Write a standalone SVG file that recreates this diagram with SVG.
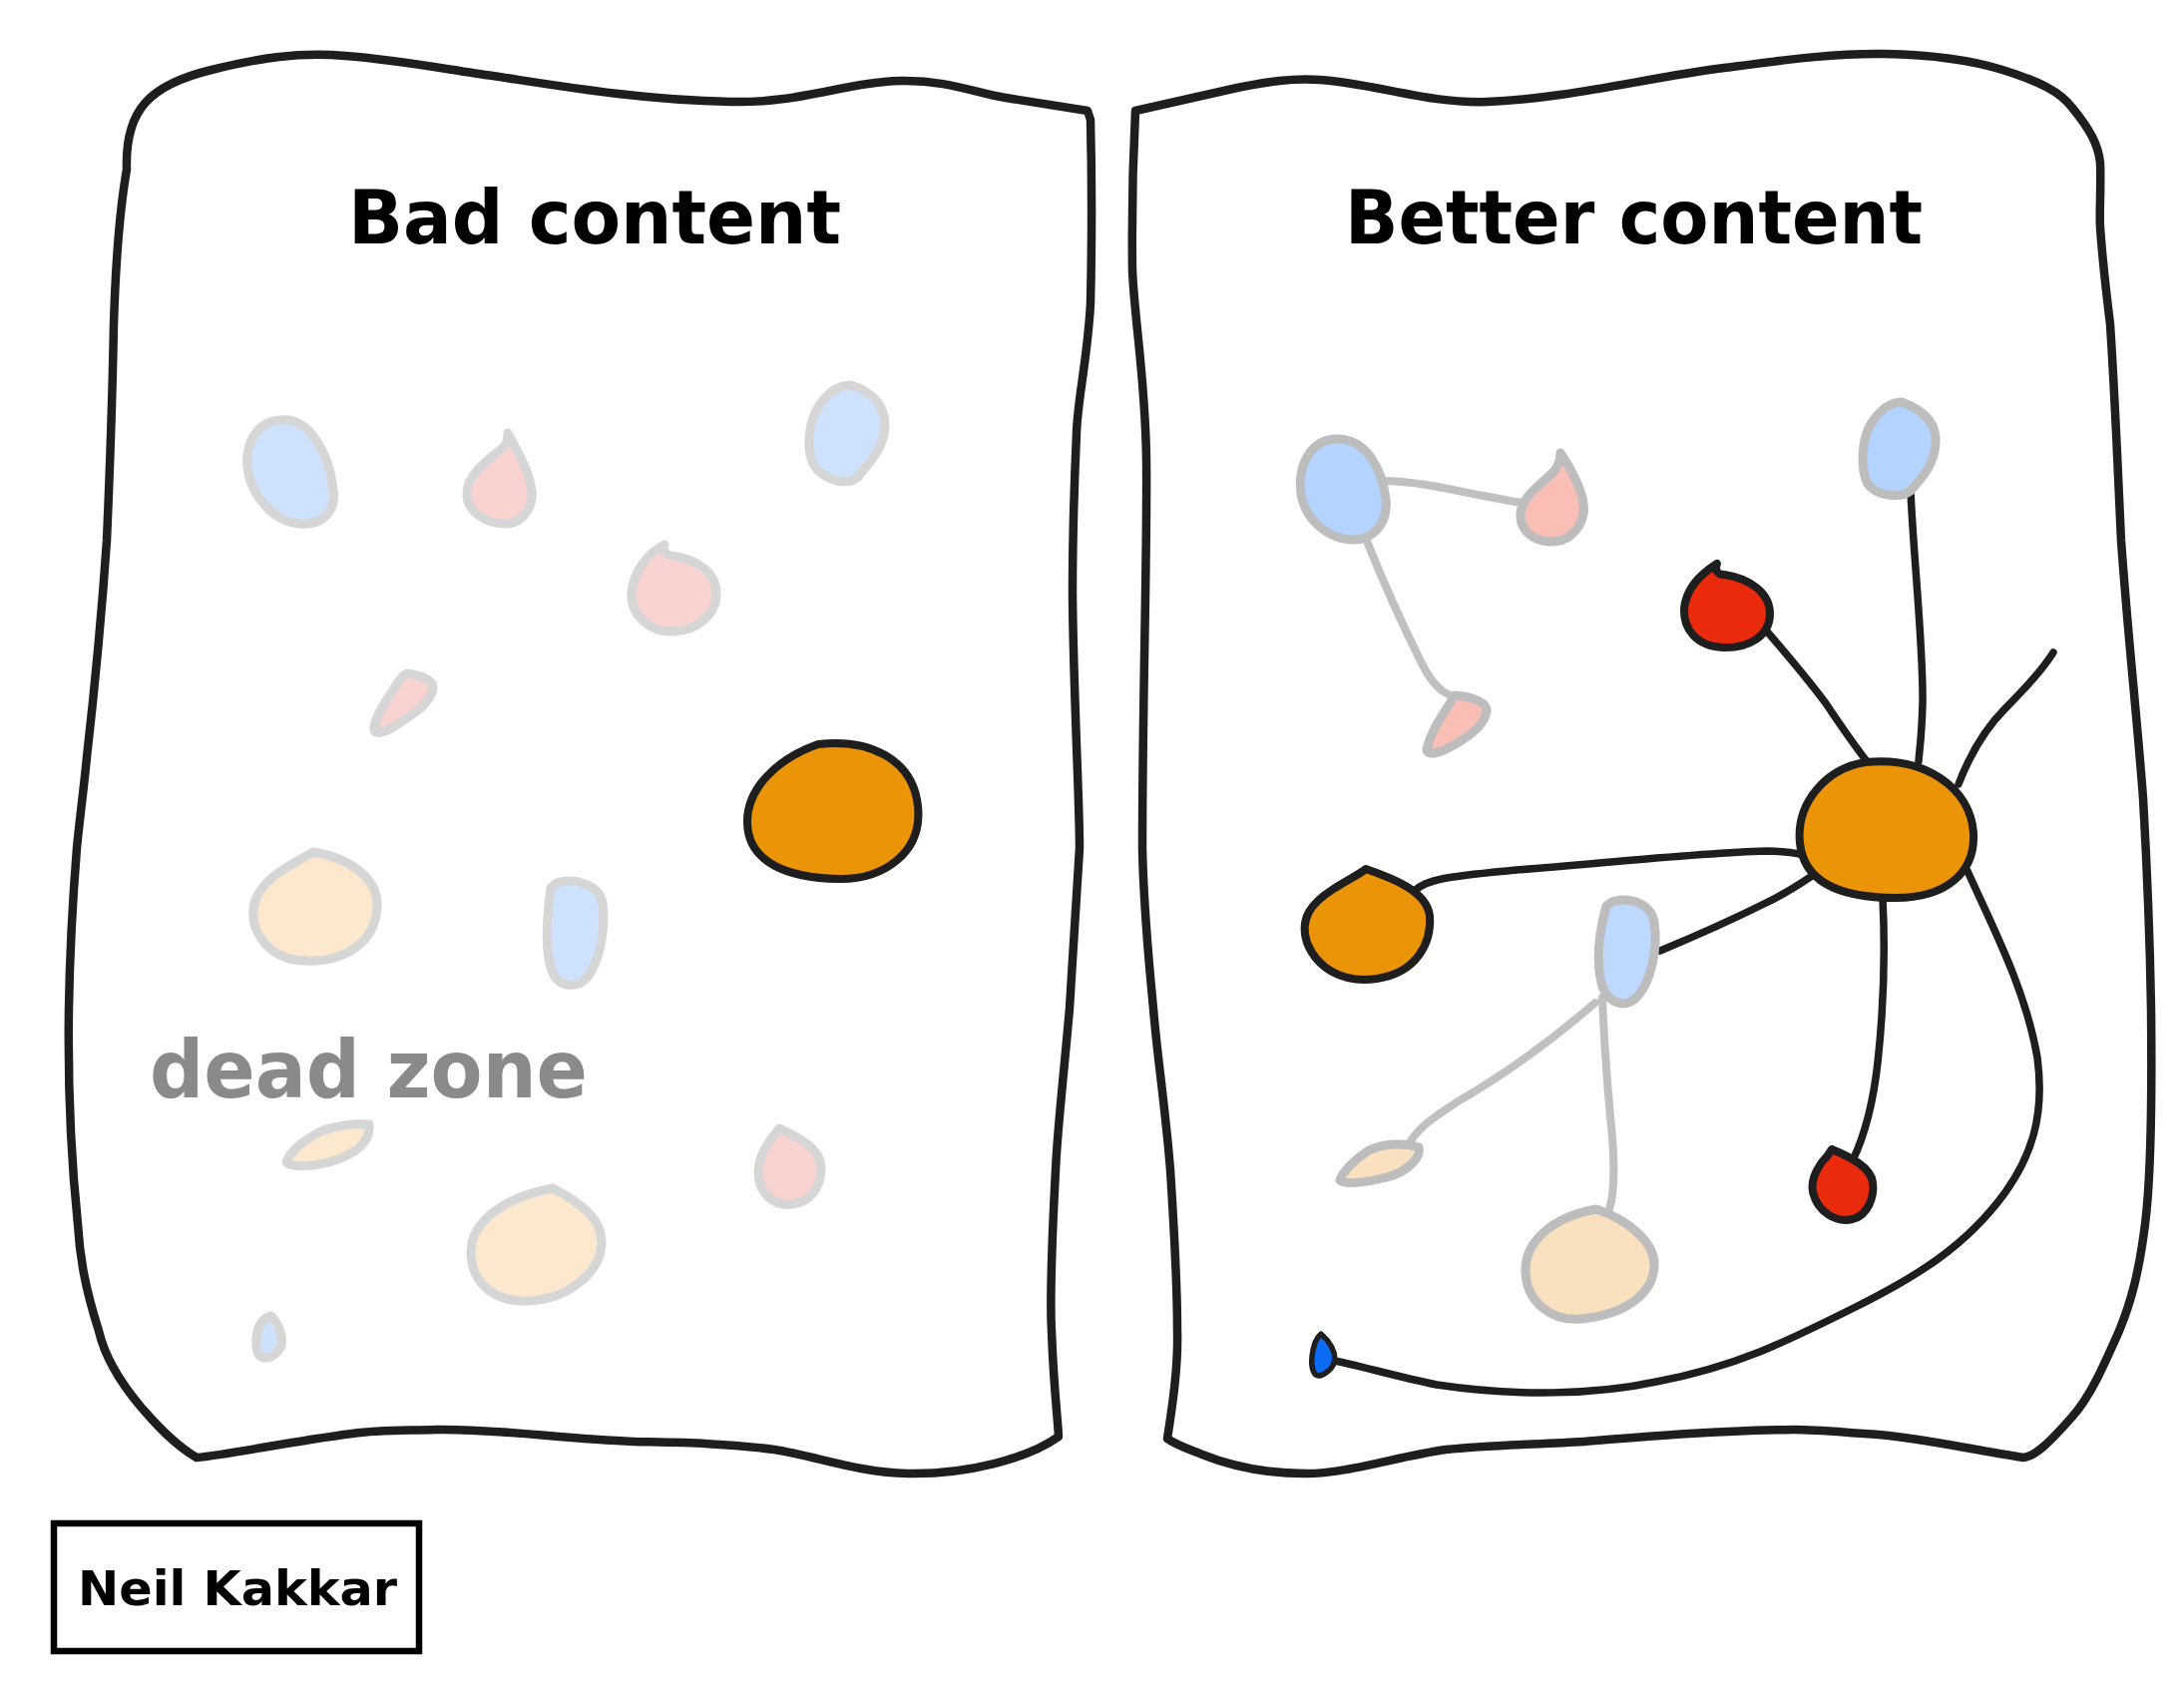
<svg xmlns="http://www.w3.org/2000/svg" width="2189" height="1694" viewBox="0 0 2189 1694">
<style>
.panel{fill:none;stroke:#1e1e1e;stroke-width:8.5;stroke-linejoin:round;stroke-linecap:round}
.faint{stroke:#d6d6d6;stroke-width:9;stroke-linejoin:round}
.soft{stroke:#bdbdbd;stroke-width:9;stroke-linejoin:round}
.bold{stroke:#1e1e1e;stroke-width:8;stroke-linejoin:round}
.gline{fill:none;stroke:#c0c0c0;stroke-width:8;stroke-linecap:round}
.bline{fill:none;stroke:#1e1e1e;stroke-width:7.5;stroke-linecap:round}
.title{font-family:"DejaVu Sans",sans-serif;font-size:74px;font-weight:bold;fill:#000}
.blue1{fill:#cfe2fd}.pink1{fill:#f9d3cf}.peach1{fill:#fbe8cf}
.blue2{fill:#b3d4ff}.pink2{fill:#f9bfb6}.peach2{fill:#f9e0bf}
.orange{fill:#ec9408}.red{fill:#ea2a0c}.dblue{fill:#0a6cf5}
</style>
<rect width="2189" height="1694" fill="#fff"/>

<g id="panel-bad">
<path class="panel" d="M127,170 C125,110 150,85 212,70 C260,58 300,52 346,56 C400,60 450,70 494,76 C560,86 640,100 733,102 C800,104 850,82 903,81 C950,80 980,94 1008,98 L1090,111 L1093,120 C1095,200 1094,260 1093,304 C1090,360 1080,400 1079,434 C1076,500 1075,550 1075,596 C1076,700 1082,800 1082,850 C1078,920 1075,960 1072,1011 C1065,1090 1060,1130 1058,1173 C1054,1250 1052,1300 1054,1334 C1056,1390 1060,1420 1061,1440 C1030,1462 970,1478 910,1477 C860,1476 820,1460 776,1453 C720,1446 680,1446 635,1445 C560,1442 500,1432 437,1433 C400,1434 380,1433 353,1437 C290,1445 230,1458 197,1461 C170,1445 150,1420 141,1410 C120,1385 105,1360 99,1334 C85,1290 80,1260 78,1227 C70,1150 68,1080 69,1011 C70,950 73,900 77,850 C80,820 84,790 87,759 C96,680 103,600 107,542 C111,450 113,380 114,325 C116,260 120,210 127,170 Z"/>
<text class="title" x="349" y="244" textLength="494" lengthAdjust="spacingAndGlyphs">Bad content</text>
</g>

<g id="panel-better">
<path class="panel" d="M1138,111 C1170,104 1205,96 1240,88 C1270,82 1295,78 1323,80 C1380,84 1430,104 1491,102 C1570,99 1650,78 1728,68 C1790,60 1840,53 1889,54 C1940,55 1975,60 2007,70 C2045,82 2065,92 2077,108 C2095,130 2103,145 2105,163 C2106,190 2104,210 2105,228 C2108,270 2112,300 2115,325 C2120,400 2123,480 2126,542 C2133,640 2142,720 2148,800 C2152,870 2155,950 2156,1011 C2157,1100 2156,1180 2150,1227 C2144,1275 2136,1305 2124,1334 C2108,1370 2095,1400 2077,1420 C2055,1445 2040,1460 2028,1461 C1970,1452 1920,1440 1868,1437 C1840,1435 1820,1433 1798,1433 C1720,1434 1650,1440 1588,1445 C1540,1448 1495,1448 1449,1453 C1400,1460 1350,1477 1309,1477 C1260,1477 1225,1466 1205,1458 C1190,1452 1178,1448 1170,1442 C1175,1410 1181,1370 1180,1334 C1180,1280 1176,1220 1173,1173 C1168,1110 1160,1060 1156,1011 C1150,950 1146,900 1145,850 C1145,700 1150,560 1149,461 C1148,380 1137,320 1135,271 C1134,200 1136,150 1138,111 Z"/>
<text class="title" x="1348" y="244" textLength="579" lengthAdjust="spacingAndGlyphs">Better content</text>
</g>

<g id="bad-nodes">
<path id="b1" class="faint blue1" d="M282,421 C310,418 330,455 334,490 C338,515 320,527 300,525 C275,523 255,500 249,475 C244,448 255,422 282,421 Z"/>
<path id="b2" class="faint pink1" d="M509,434 C520,455 535,480 533,500 C531,515 518,526 505,525 C485,524 468,512 468,495 C468,475 490,460 505,448 C508,445 509,440 509,434 Z"/>
<path id="b3" class="faint blue1" d="M853,386 C872,392 888,405 887,428 C886,450 870,465 860,478 C850,488 825,482 815,465 C808,450 810,425 820,408 C830,392 842,386 853,386 Z"/>
<path id="b4" class="faint pink1" d="M666,546 C662,552 668,556 672,557 C700,560 718,575 718,595 C718,615 700,632 675,633 C650,634 632,615 633,595 C634,575 648,555 666,546 Z"/>
<path id="b5" class="faint pink1" d="M408,675 C420,677 435,680 434,690 C432,705 415,715 400,725 C390,732 378,738 375,732 C374,722 385,705 395,690 C400,682 404,676 408,675 Z"/>
<path id="b6" class="bold orange" d="M820,746 C870,740 915,760 920,808 C925,855 885,882 840,881 C790,880 750,865 749,825 C748,790 780,760 820,746 Z"/>
<path id="b7" class="faint peach1" d="M314,854 C350,860 380,880 378,910 C376,945 345,965 305,963 C270,962 252,935 254,912 C256,885 285,870 314,854 Z"/>
<path id="b8" class="faint blue1" d="M558,885 C575,880 600,885 604,905 C607,930 602,960 590,978 C580,992 560,990 554,975 C545,955 548,920 552,890 Z"/>
<path id="b9" class="faint peach1" d="M370,1127 C372,1145 355,1158 330,1165 C310,1170 290,1170 287,1165 C290,1155 305,1142 322,1134 C340,1127 355,1126 370,1127 Z"/>
<path id="b10" class="faint pink1" d="M781,1131 C800,1140 822,1150 823,1170 C823,1190 812,1205 795,1207 C775,1210 760,1195 760,1175 C760,1158 770,1145 781,1131 Z"/>
<path id="b11" class="faint peach1" d="M554,1191 C580,1205 603,1220 603,1245 C603,1275 570,1302 530,1304 C495,1306 472,1285 472,1255 C472,1225 505,1200 554,1191 Z"/>
<path id="b12" class="faint blue1" d="M272,1319 C280,1328 284,1340 282,1348 C280,1356 272,1362 264,1361 C256,1360 256,1345 258,1335 C260,1325 266,1320 272,1319 Z"/>
<text x="150" y="1100" textLength="439" lengthAdjust="spacingAndGlyphs" style="font-family:'DejaVu Sans',sans-serif;font-size:80px;font-weight:bold;fill:#8a8a8a">dead zone</text>
</g>

<g id="connectors">
<path class="gline" d="M1386,482 C1420,482 1460,492 1487,497 C1505,500 1515,503 1527,504"/>
<path class="gline" d="M1369,540 C1385,580 1405,625 1425,665 C1435,685 1445,695 1459,699"/>
<path class="gline" d="M1599,1005 C1570,1030 1520,1070 1463,1103 C1440,1118 1420,1130 1411,1149"/>
<path class="gline" d="M1606,1000 C1608,1050 1612,1100 1616,1140 C1619,1180 1617,1200 1613,1212"/>
<path class="bline" d="M1915,492 C1918,560 1928,650 1927,705 C1926,740 1924,750 1923,763"/>
<path class="bline" d="M1766,627 C1790,655 1810,678 1830,705 C1850,735 1862,752 1875,768"/>
<path class="bline" d="M1963,786 C1975,755 1990,730 2010,710 C2030,690 2048,670 2058,654"/>
<path class="bline" d="M1418,893 C1430,880 1460,878 1520,872 C1600,866 1700,855 1770,853 C1790,853 1800,855 1808,857"/>
<path class="bline" d="M1664,953 C1700,938 1740,920 1770,905 C1795,893 1810,882 1822,874"/>
<path class="bline" d="M1887,900 C1890,960 1888,1010 1882,1065 C1877,1110 1868,1140 1857,1163"/>
<path class="bline" d="M1972,873 C1995,925 2030,990 2042,1060 C2050,1120 2035,1160 2010,1195 C1970,1250 1920,1280 1860,1310 C1790,1345 1740,1370 1660,1385 C1600,1398 1520,1400 1440,1388 C1400,1380 1360,1368 1337,1364"/>
</g>

<g id="better-nodes">
<path id="r1" class="soft blue2" d="M1340,440 C1370,440 1385,470 1389,500 C1392,525 1375,542 1355,541 C1330,540 1308,520 1304,495 C1300,465 1315,440 1340,440 Z"/>
<path id="r2" class="soft pink2" d="M1564,454 C1578,475 1590,500 1587,515 C1584,532 1570,544 1553,543 C1535,542 1523,530 1524,515 C1525,498 1545,485 1556,474 C1562,468 1564,462 1564,454 Z"/>
<path id="r3" class="soft blue2" d="M1906,403 C1925,410 1942,422 1940,445 C1938,468 1925,480 1915,492 C1905,500 1880,497 1872,485 C1864,470 1866,440 1875,425 C1885,410 1895,403 1906,403 Z"/>
<path id="r5" class="soft pink2" d="M1458,697 C1470,698 1490,702 1490,712 C1489,728 1470,740 1455,748 C1445,754 1432,758 1430,752 C1432,740 1442,722 1450,710 Z"/>
<path id="r6" class="bold red" d="M1721,565 C1718,572 1722,576 1728,576 C1755,580 1774,595 1774,615 C1774,638 1752,650 1727,649 C1700,648 1687,630 1688,610 C1690,590 1705,575 1721,565 Z"/>
<path id="hub" class="bold orange" d="M1870,764 C1930,758 1975,790 1978,835 C1980,875 1950,900 1900,900 C1845,900 1808,885 1804,845 C1800,805 1830,770 1870,764 Z"/>
<path id="r7" class="bold orange" d="M1369,871 C1395,880 1430,893 1433,918 C1435,945 1420,975 1380,981 C1345,986 1320,970 1310,945 C1302,920 1315,905 1335,892 C1350,882 1360,878 1369,871 Z"/>
<path id="r8" class="soft blue2" style="fill:#bdd9ff" d="M1614,905 C1625,898 1655,902 1658,925 C1662,950 1655,985 1640,1000 C1628,1012 1610,1005 1605,985 C1599,960 1604,930 1610,908 Z"/>
<path id="r9" class="soft peach2" d="M1422,1150 C1425,1160 1410,1175 1390,1180 C1370,1185 1350,1188 1343,1183 C1345,1175 1358,1162 1372,1153 C1390,1145 1410,1146 1422,1150 Z"/>
<path id="r10" class="soft peach2" d="M1600,1212 C1630,1222 1660,1245 1658,1270 C1656,1300 1625,1318 1585,1322 C1555,1325 1530,1305 1529,1275 C1528,1245 1555,1220 1600,1212 Z"/>
<path id="r11" class="bold red" d="M1836,1152 C1855,1160 1875,1170 1877,1185 C1879,1200 1872,1218 1857,1222 C1840,1226 1822,1215 1817,1195 C1814,1180 1825,1165 1832,1158 Z"/>
<path id="r12" class="bold dblue" style="stroke-width:5.5" d="M1324,1337 C1333,1345 1338,1355 1338,1363 C1337,1370 1330,1377 1323,1379 C1316,1380 1314,1370 1315,1360 C1316,1350 1318,1342 1324,1337 Z"/>
</g>

<g id="signature">
<rect x="54" y="1527" width="366" height="128" fill="none" stroke="#000" stroke-width="6.5"/>
<text x="78" y="1609" textLength="320" lengthAdjust="spacingAndGlyphs" style="font-family:'DejaVu Sans',sans-serif;font-size:48px;font-weight:bold;fill:#000">Neil Kakkar</text>
</g>
</svg>
